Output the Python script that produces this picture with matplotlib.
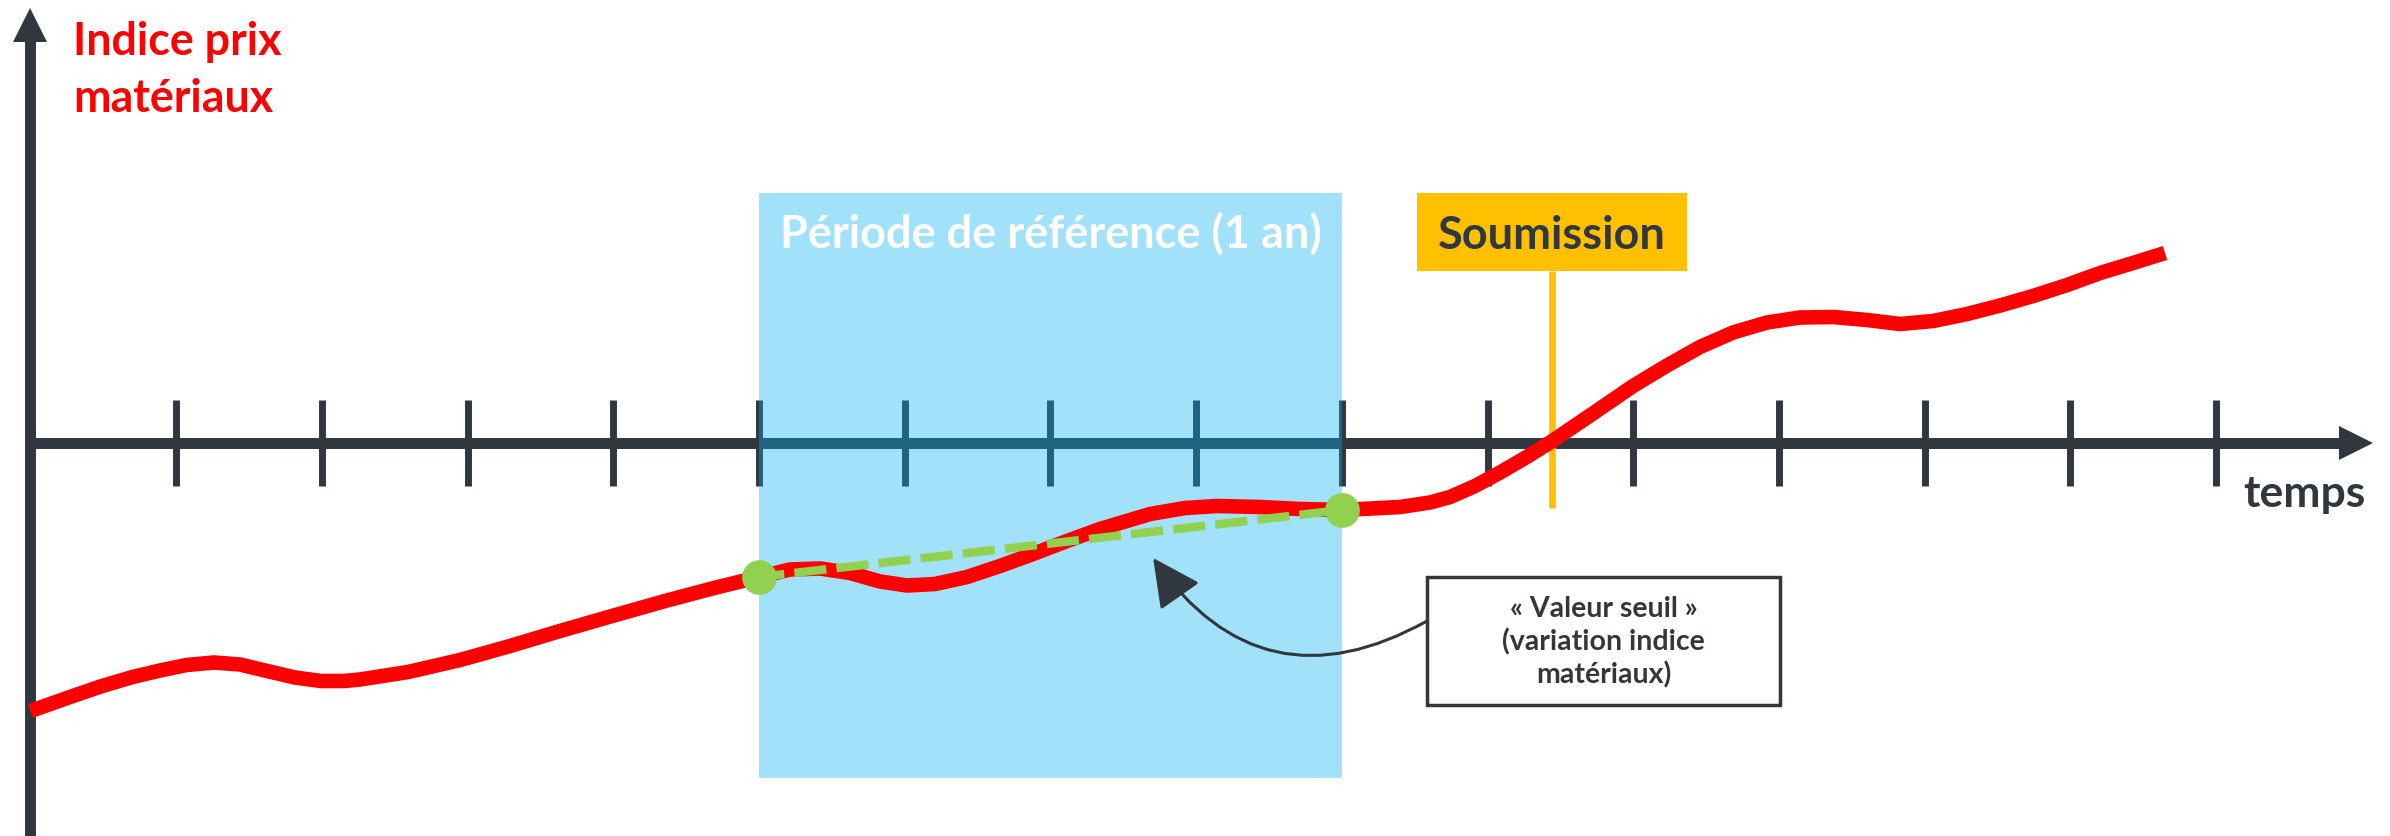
import matplotlib
matplotlib.use("Agg")
import matplotlib.pyplot as plt
from matplotlib.patches import Rectangle

plt.rcParams['font.family'] = ['Lato', 'DejaVu Sans']

# ---------------- data ----------------
# time (periods, y-axis = 0) and material price index (x-axis = 0)
temps = [0.0, 0.271, 0.491, 0.7, 0.889, 1.07, 1.259, 1.438, 1.609, 1.815,
         1.994, 2.15, 2.261, 2.591, 2.948, 3.291, 3.634, 3.991, 4.355, 4.691,
         5.0, 5.213, 5.419, 5.625, 5.831, 6.016, 6.208, 6.428, 6.654, 6.881,
         7.114, 7.340, 7.684, 7.924, 8.143, 8.439, 8.713, 9.0, 9.400, 9.605,
         9.743, 9.914, 10.086, 10.257, 10.429, 10.703, 10.999, 11.232, 11.458, 11.685,
         11.918, 12.145, 12.371, 12.605, 12.831, 13.058, 13.291, 13.518, 13.744, 13.978,
         14.204, 14.430, 14.650]
indice = [-2.685, -2.545, -2.435, -2.345, -2.28, -2.225, -2.2, -2.22, -2.28, -2.35,
          -2.385, -2.385, -2.37, -2.295, -2.175, -2.035, -1.885, -1.735, -1.585, -1.455,
          -1.345, -1.27, -1.26, -1.305, -1.39, -1.43, -1.415, -1.345, -1.235, -1.115,
          -0.985, -0.865, -0.715, -0.655, -0.635, -0.645, -0.665, -0.675, -0.645, -0.60,
          -0.545, -0.435, -0.30, -0.155, 0.0, 0.27, 0.565, 0.77, 0.955, 1.1,
          1.2, 1.25, 1.255, 1.225, 1.185, 1.215, 1.285, 1.37, 1.465, 1.575,
          1.695, 1.795, 1.895]
graduations = list(range(1, 16))
ref_debut, ref_fin = 5.0, 9.0
soumission = 10.443

titre_y = ["Indice prix", "matériaux"]
titre_x = "temps"
texte_ref = "Période de référence (1 an)"
texte_soum = "Soumission"
texte_seuil = "« Valeur seuil »\n(variation indice\nmatériaux)"

# ---------------- styles ----------------
DARK = '#31373e'
RED = '#ff0000'
GREEN = '#92d050'
BLUE = '#00b0f0'
GOLD = '#ffc000'

fig = plt.figure(figsize=(23.9, 8.37), dpi=100)
ax = fig.add_axes([0, 0, 1, 1])
ax.set_xlim(-0.2093, 16.194)
ax.set_ylim(-3.935, 4.435)

# axes as arrows
for s in ['top', 'right']:
    ax.spines[s].set_visible(False)
ax.spines['left'].set_position(('data', 0))
ax.spines['bottom'].set_position(('data', 0))
ax.spines['left'].set_bounds(-3.935, 4.14)
ax.spines['bottom'].set_bounds(0, 15.85)
for s in ['left', 'bottom']:
    ax.spines[s].set_linewidth(7.9)
    ax.spines[s].set_color(DARK)
    ax.spines[s].set_capstyle('butt')
ax.set_xticks(graduations)
ax.set_yticks([])
ax.tick_params(axis='x', direction='inout', length=62, width=5, color=DARK,
               labelbottom=False)
ax.plot([15.96], [0], marker='>', ms=23.8, color=DARK, mew=0, clip_on=False, zorder=2.6)
ax.plot([0], [4.18], marker='^', ms=23.8, color=DARK, mew=0, clip_on=False, zorder=2.6)

# reference period
ax.add_patch(Rectangle((ref_debut, -3.355), ref_fin - ref_debut, 5.85,
                       facecolor=BLUE, alpha=0.37, edgecolor='none', zorder=3))
ax.text((ref_debut + ref_fin) / 2, 1.955, texte_ref, color='white', fontsize=32.5,
        fontweight='bold', ha='center', va='baseline', zorder=7)

# submission marker
ax.plot([soumission, soumission], [1.715, -0.655], color=GOLD, lw=4.8,
        solid_capstyle='butt', zorder=3.5)
ax.add_patch(Rectangle((soumission - 0.9265, 1.715), 1.853, 0.78,
                       facecolor=GOLD, edgecolor='none', zorder=3.5))
ax.text(soumission, 1.945, texte_soum, color=DARK, fontsize=32.5, fontweight='bold',
        ha='center', va='baseline', zorder=7)

# index curve
ax.plot(temps, indice, color=RED, lw=10.5, solid_capstyle='butt',
        solid_joinstyle='round', zorder=4)

# threshold
i0 = temps.index(ref_debut)
i1 = temps.index(ref_fin)
ax.plot([temps[i0], temps[i1]], [indice[i0], indice[i1]], color=GREEN, lw=6.1,
        linestyle=(0.8, (3.8, 1.2)), zorder=5)
ax.plot([temps[i0], temps[i1]], [indice[i0], indice[i1]], linestyle='none',
        marker='o', ms=25, color=GREEN, mew=0, zorder=6)

# callout
ax.add_patch(Rectangle((9.585, -2.625), 2.422, 1.28, facecolor='white',
                       edgecolor=DARK, lw=2.5, zorder=5))
ax.text(10.796, -1.985, texte_seuil, color=DARK, fontsize=20.5, fontweight='bold',
        ha='center', va='center', multialignment='center', linespacing=1.28, zorder=6)
ax.annotate('', xy=(7.705, -1.155), xytext=(9.585, -1.785),
            arrowprops=dict(arrowstyle='-|>,head_length=30,head_width=15',
                            mutation_scale=1, connectionstyle='arc3,rad=-0.45',
                            lw=2.2, color=DARK, shrinkA=0, shrinkB=0),
            zorder=5)

# axis titles
ax.text(0.292, 3.885, titre_y[0], color=RED, fontsize=32.2, fontweight='bold',
        ha='left', va='baseline')
ax.text(0.292, 3.315, titre_y[1], color=RED, fontsize=32.2, fontweight='bold',
        ha='left', va='baseline')
ax.text(15.186, -0.635, titre_x, color=DARK, fontsize=32, fontweight='bold',
        ha='left', va='baseline')

fig.savefig('out.png', dpi=100, facecolor='white')
